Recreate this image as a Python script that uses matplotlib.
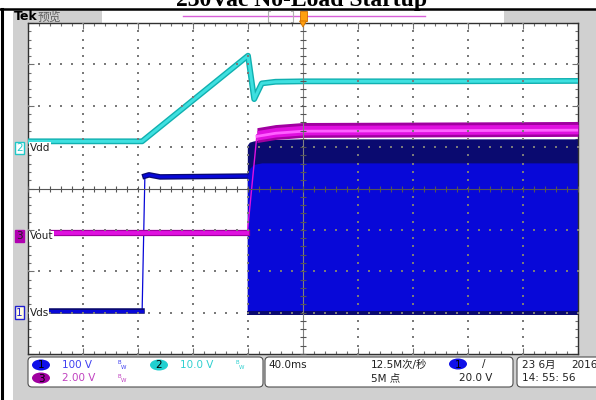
import numpy as np
import matplotlib
matplotlib.use("Agg")
import matplotlib.pyplot as plt
from matplotlib.patches import FancyBboxPatch, Rectangle, Ellipse, Polygon

plt.rcParams['font.family'] = ['DejaVu Sans', 'Noto Sans CJK SC']

# --- scope settings (V/div and ground position in divisions from centre) ---
CH1_SCALE, CH1_GND = 100.0, -3.0     # Vds
CH2_SCALE, CH2_GND = 10.0, 0.98      # Vdd
CH3_SCALE, CH3_GND = 2.0, -1.15      # Vout
T_DIV = 40.0                         # ms/div, 10 divisions, trigger at centre

# --- Ch2 : Vdd (V) ---
T_VDD = [-200, -117, -40, -35.5, -30, -20, 0, 100, 200]
V_VDD = [1.6, 1.6, 22.3, 11.8, 15.6, 16.0, 16.1, 16.1, 16.2]

# --- Ch1 : Vds before switching starts (V) ---
T_VDS = [-186, -117, -115, -112, -104, -40.5]
V_VDS = [4, 4, 330, 333, 328, 330]

# --- Ch1 : Vds envelope once the converter switches (V) ---
T_SW = [-40.5, -39, -36, -30, 0, 200]
SW_LOW = [0, 0, 0, 0, 0, 0]
SW_BLUE_TOP = [330, 348, 358, 362, 362, 362]
SW_NAVY_TOP = [405, 412, 415, 418, 420, 420]

# --- Ch3 : Vout (V) ---
T_VOUT = [-182, -40.5, -33.5, -20, 0, 200]
V_VOUT = [0.15, 0.15, 4.9, 5.05, 5.15, 5.2]


def to_div(v, scale, gnd):
    return gnd + np.asarray(v, dtype=float) / scale


fig = plt.figure(figsize=(5.96, 4.00), dpi=100)

# background decoration in pixel coordinates
deco = fig.add_axes([0, 0, 1, 1], zorder=0)
deco.set_xlim(0, 596)
deco.set_ylim(400, 0)
deco.axis('off')

GRAY = '#d0d0d0'
deco.add_patch(Rectangle((13, 10), 583, 390, color=GRAY, lw=0))
deco.add_patch(Rectangle((102, 10), 402, 13, color='white', lw=0))
deco.plot([0, 596], [9, 9], color='black', lw=1.8)
deco.plot([1.5, 1.5], [9, 400], color='black', lw=2.2)

fig.text(0.506, 1 - 6 / 400, '230Vac No-Load Startup', family='Liberation Serif',
         weight='bold', fontsize=17, ha='center', va='baseline')

deco.text(14, 17, 'Tek', fontsize=9, weight='bold', va='center', ha='left')
deco.text(38, 17, '预览', fontsize=8.5, color='#606060', va='center', ha='left')
deco.plot([183, 425], [16, 16], color='#d860d8', lw=1.0)
deco.plot([270, 268, 268, 270], [11, 11, 22, 22], color='#b0b0b0', lw=0.8)
deco.plot([291, 293, 293, 291], [11, 11, 22, 22], color='#b0b0b0', lw=0.8)

# info panel
boxes = [(28, 357, 235, 30), (265, 357, 248, 30), (517, 357, 90, 30)]
for bx, by, bw, bh in boxes:
    deco.add_patch(FancyBboxPatch((bx, by), bw, bh, boxstyle='round,pad=0,rounding_size=4',
                                  fc='white', ec='#505050', lw=0.8))


def badge(x, y, num, color):
    deco.add_patch(Ellipse((x, y), 18, 11, color=color, lw=0))
    deco.text(x, y + 0.5, num, fontsize=7.5, ha='center', va='center', color='black')


def bw_mark(x, y, color):
    deco.text(x, y - 2, 'B', fontsize=4, color=color, ha='left', va='center')
    deco.text(x + 2.5, y + 2.5, 'W', fontsize=4, color=color, ha='left', va='center')


C1_TXT, C2_TXT, C3_TXT = '#4040f0', '#30d0d0', '#c040c0'
badge(41, 365, '1', '#1010e8')
deco.text(62, 365, '100 V', fontsize=7.5, color=C1_TXT, va='center')
bw_mark(118, 365, C1_TXT)
badge(159, 365, '2', '#20d0d0')
deco.text(180, 365, '10.0 V', fontsize=7.5, color=C2_TXT, va='center')
bw_mark(236, 365, C2_TXT)
badge(41, 378, '3', '#a000a0')
deco.text(62, 378, '2.00 V', fontsize=7.5, color=C3_TXT, va='center')
bw_mark(118, 378, C3_TXT)

deco.text(268, 365, '40.0ms', fontsize=7.5, color='#202020', va='center')
deco.text(371, 365, '12.5M次/秒', fontsize=7.5, color='#202020', va='center')
deco.text(371, 378, '5M 点', fontsize=7.5, color='#202020', va='center')
badge(458, 364, '1', '#1010e8')
deco.text(482, 364, '/', fontsize=7.5, color='#202020', va='center')
deco.text(459, 378, '20.0 V', fontsize=7.5, color='#202020', va='center')
deco.text(522, 365, '23 6月', fontsize=7.5, color='#202020', va='center')
deco.text(571, 365, '2016', fontsize=7.5, color='#202020', va='center')
deco.text(522, 378, '14: 55: 56', fontsize=7.5, color='#202020', va='center')

# --- graticule axes ---
ax = fig.add_axes([28 / 596, 46 / 400, 550 / 596, 331 / 400], zorder=1)
ax.set_facecolor('white')
ax.set_xlim(-5 * T_DIV, 5 * T_DIV)
ax.set_ylim(-4, 4)
ax.set_xticks(np.arange(-200, 201, 40))
ax.set_yticks(np.arange(-4, 5, 1))
ax.set_xticks(np.arange(-200, 201, 8), minor=True)
ax.set_yticks(np.arange(-4, 4.01, 0.2), minor=True)
ax.tick_params(which='both', direction='in', top=True, right=True,
               labelbottom=False, labelleft=False, color='#707070')
ax.tick_params(which='major', length=4, width=0.8)
ax.tick_params(which='minor', length=2.5, width=0.8)
for s in ax.spines.values():
    s.set_color('#303030')
    s.set_linewidth(1.0)

# traces
CYAN, CYAN_D = '#3ee0e0', '#10b0b0'
BLUE, NAVY = '#0808d8', '#0a0a70'
MAG, MAG_D, MAG_L = '#e010e0', '#a000a0', '#ff60ff'

vdd = to_div(V_VDD, CH2_SCALE, CH2_GND)
ax.plot(T_VDD, vdd, color=CYAN_D, lw=4.2, solid_joinstyle='round', zorder=3)
ax.plot(T_VDD, vdd, color=CYAN, lw=2.2, solid_joinstyle='round', zorder=3)

vds = to_div(V_VDS, CH1_SCALE, CH1_GND)
ax.plot(T_VDS, vds, color=BLUE, lw=0.9, zorder=2)
ax.plot(T_VDS[:2], vds[:2], color=NAVY, lw=4.0, zorder=2)
ax.plot(T_VDS[:2], vds[:2], color=BLUE, lw=2.2, zorder=2)
ax.plot(T_VDS[2:], vds[2:], color=NAVY, lw=4.0, zorder=2)
ax.plot(T_VDS[2:], vds[2:], color=BLUE, lw=2.2, zorder=2)

sw_low = to_div(SW_LOW, CH1_SCALE, CH1_GND)
ax.fill_between(T_SW, sw_low, to_div(SW_NAVY_TOP, CH1_SCALE, CH1_GND), color=NAVY, lw=0, zorder=2)
ax.fill_between(T_SW, sw_low, to_div(SW_BLUE_TOP, CH1_SCALE, CH1_GND), color=BLUE, lw=0, zorder=2)
ax.fill_between(T_SW, sw_low - 0.05, sw_low + 0.05, color=NAVY, lw=0, zorder=2)

vout = to_div(V_VOUT, CH3_SCALE, CH3_GND)
ax.plot(T_VOUT[:2], vout[:2], color=MAG_D, lw=4.5, zorder=3)
ax.plot(T_VOUT[:2], vout[:2], color=MAG, lw=2.8, zorder=3)
ax.plot(T_VOUT[1:3], vout[1:3], color=MAG, lw=1.0, zorder=3)
ax.fill_between(T_VOUT[2:], vout[2:] - 0.19, vout[2:] + 0.17, color=MAG_D, lw=0, zorder=3)
ax.fill_between(T_VOUT[2:], vout[2:] - 0.13, vout[2:] + 0.10, color=MAG, lw=0, zorder=3)
ax.plot(T_VOUT[2:], vout[2:] - 0.04, color=MAG_L, lw=2.0, zorder=3)

# dotted grid and centre cross
GRID = '#7a7a7a'
yy = np.arange(-4, 4.01, 0.2)
xx = np.arange(-200, 201, 8)
for gx in np.arange(-160, 161, 40):
    if gx != 0:
        ax.scatter(np.full_like(yy, gx), yy, s=0.8, marker='s', color=GRID, lw=0, zorder=5)
for gy in range(-3, 4):
    if gy != 0:
        ax.scatter(xx, np.full_like(xx, gy, dtype=float), s=0.8, marker='s', color=GRID, lw=0, zorder=5)
ax.axhline(0, color='#555555', lw=0.8, zorder=5)
ax.axvline(0, color='#808080', lw=0.8, zorder=5)
ax.plot(xx, np.zeros_like(xx), ls='none', marker='|', ms=4, mew=0.8, color='#555555', zorder=5)
ax.plot(np.zeros_like(yy), yy, ls='none', marker='_', ms=4, mew=0.8, color='#555555', zorder=5)

# ground markers and labels
ytr = ax.get_yaxis_transform()
markers = [(CH2_GND, '2', 'Vdd', 'white', '#20c8c8', '#20c8c8'),
           (CH3_GND, '3', 'Vout', '#b000b0', '#b000b0', '#202020'),
           (CH1_GND, '1', 'Vds', '#fffbe0', '#2020d0', '#2020d0')]
for gnd, num, name, fc, ec, tc in markers:
    ax.text(-0.016, gnd, num, transform=ytr, fontsize=7.5, color=tc, ha='center', va='center',
            clip_on=False, zorder=6,
            bbox=dict(boxstyle='square,pad=0.12', fc=fc, ec=ec, lw=1.0))
    ax.text(0.003, gnd, name, transform=ytr, fontsize=7.5, color='#202020', ha='left', va='center',
            zorder=6, bbox=dict(boxstyle='square,pad=0.05', fc='white', ec='none'))

# trigger position marker
over = fig.add_axes([0, 0, 1, 1], zorder=3)
over.set_xlim(0, 596)
over.set_ylim(400, 0)
over.axis('off')
over.add_patch(Rectangle((299.5, 11), 7, 10, fc='#ffa010', ec='#d07000', lw=0.6))
over.add_patch(Polygon([(299.5, 21), (306.5, 21), (303, 27)], fc='#ffa010', ec='#d07000', lw=0.6))

fig.savefig('out.png', dpi=100)
